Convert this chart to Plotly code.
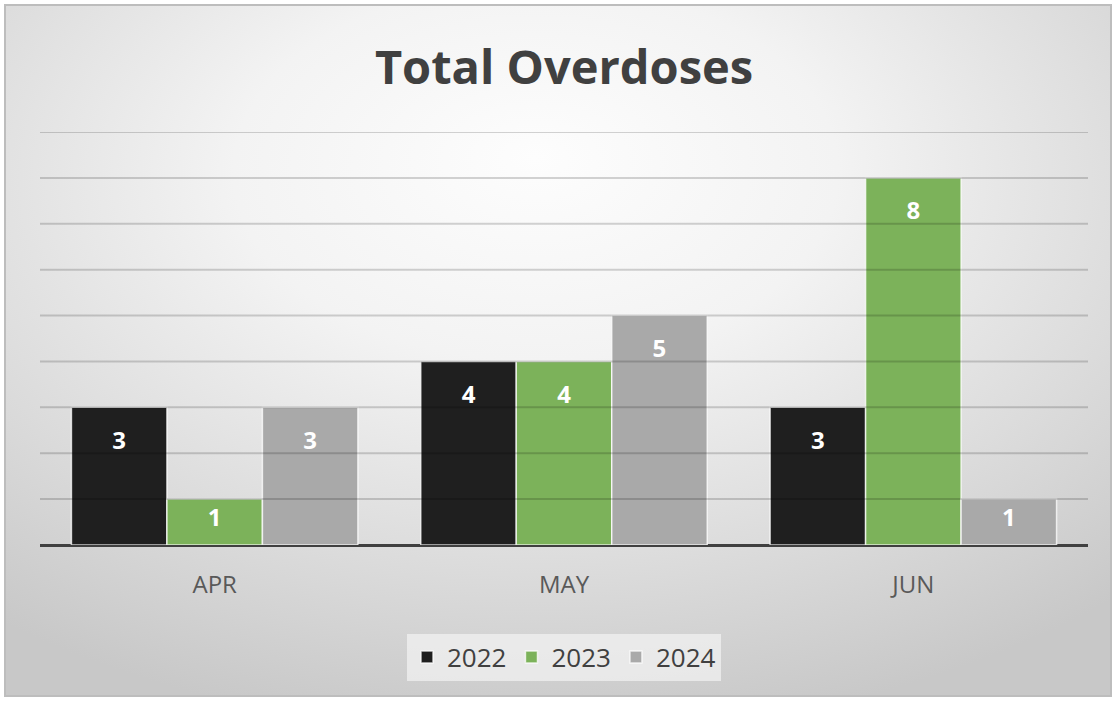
import base64
import plotly.graph_objects as go

# ---- data ----
months = ["APR", "MAY", "JUN"]
series_names = ["2022", "2023", "2024"]
values_2022 = [3, 4, 3]
values_2023 = [1, 4, 8]
values_2024 = [3, 5, 1]
series_values = [values_2022, values_2023, values_2024]
series_colors = ["#1f1f1f", "#7cb25a", "#a9a9a9"]
title_text = "Total Overdoses"

# ---- layout constants ----
W, H = 1116, 701
ML, MR, MT, MB = 40, 28, 132, 156
PW, PH = W - ML - MR, H - MT - MB
Y_MAX = 9
BG_X0, BG_Y0, BG_W, BG_H = 4, 4, 1108, 693
LABEL_FS = 24

svg = f'''<svg xmlns="http://www.w3.org/2000/svg" width="{BG_W}" height="{BG_H}" viewBox="0 0 {BG_W} {BG_H}">
<defs><radialGradient id="g" cx="0.48" cy="0.28" r="0.78" fx="0.48" fy="0.22">
<stop offset="0" stop-color="#fdfdfd"/>
<stop offset="0.35" stop-color="#f3f3f3"/>
<stop offset="0.72" stop-color="#dbdbdb"/>
<stop offset="1" stop-color="#c8c8c8"/>
</radialGradient></defs>
<rect x="1" y="1" width="{BG_W-2}" height="{BG_H-2}" fill="url(#g)" stroke="#bdbdbd" stroke-width="2"/>
</svg>'''
bg_src = "data:image/svg+xml;base64," + base64.b64encode(svg.encode()).decode()


def label_marker_size(v):
    # invisible marker whose radius pushes the label down inside the bar
    bar_px = v * PH / Y_MAX
    offset = min(33, bar_px * 0.41)
    r = max(offset - 0.4 * LABEL_FS, 1.5)
    return max(2 * 0.8 * (r - 1), 1)


fig = go.Figure()
for name, vals, col in zip(series_names, series_values, series_colors):
    fig.add_trace(go.Bar(
        x=months, y=vals, name=name,
        marker=dict(color=col, line=dict(color="rgba(255,255,255,0.75)", width=1.5)),
        hoverinfo="x+y+name",
    ))
for name, vals in zip(series_names, series_values):
    fig.add_trace(go.Scatter(
        x=months, y=vals, name=name, mode="markers+text",
        text=[str(v) for v in vals], textposition="bottom center",
        textfont=dict(family="Open Sans", size=LABEL_FS, color="white", weight="bold"),
        marker=dict(size=[label_marker_size(v) for v in vals], color="rgba(0,0,0,0)",
                    line=dict(width=0, color="rgba(0,0,0,0)")),
        showlegend=False, hoverinfo="skip", cliponaxis=False,
    ))

# horizontal gridlines drawn over the bars (as in the original chart)
grid_shapes = [dict(type="line", xref="paper", yref="y", x0=0, x1=1, y0=k, y1=k,
                    line=dict(color="rgba(0,0,0,0.17)", width=2), layer="above")
               for k in range(1, Y_MAX + 1)]

fig.update_layout(
    width=W, height=H,
    margin=dict(l=ML, r=MR, t=MT, b=MB),
    paper_bgcolor="white", plot_bgcolor="rgba(0,0,0,0)",
    barmode="group", bargap=0.18, bargroupgap=0,
    scattermode="group", scattergap=0.18,
    title=dict(text=title_text, xref="paper", x=0.5, xanchor="center", y=1 - 68 / H, yanchor="middle",
               font=dict(family="Open Sans", size=47, color="#404040", weight="bold")),
    font=dict(family="Open Sans", color="#595959"),
    xaxis=dict(showgrid=False, showline=False, ticks="", zeroline=False,
               tickfont=dict(size=24, color="#595959"), ticklabelstandoff=23),
    yaxis=dict(range=[0, Y_MAX], dtick=1, showticklabels=False, ticks="",
               showgrid=False,
               zeroline=True, zerolinecolor="#404040", zerolinewidth=3,
               showline=False, layer="above traces"),
    shapes=grid_shapes,
    legend=dict(orientation="h", x=0.5, xanchor="center", y=(0 - (657 - (H - MB))) / PH, yanchor="middle",
                bgcolor="rgba(244,244,244,0.7)", font=dict(size=26, color="#404040"),
                itemclick=False),
    images=[dict(source=bg_src, xref="paper", yref="paper",
                 x=(BG_X0 - ML) / PW, y=(H - MB - BG_Y0) / PH,
                 sizex=BG_W / PW, sizey=BG_H / PH,
                 xanchor="left", yanchor="top", sizing="stretch", layer="below")],
    showlegend=True,
)

fig.write_html("out.html", config={"displayModeBar": False},
               post_script="document.body.style.margin='0';document.body.style.overflow='hidden';")
